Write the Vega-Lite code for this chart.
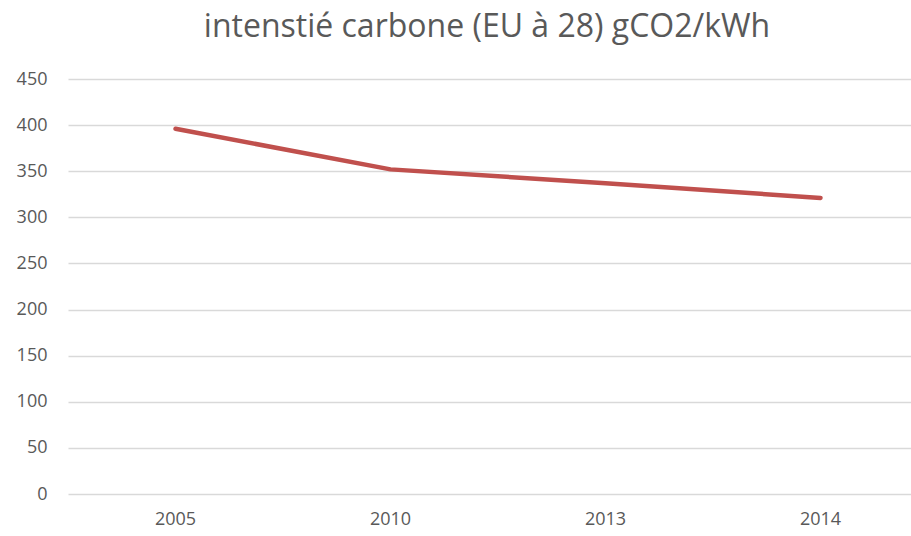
{
  "$schema": "https://vega.github.io/schema/vega-lite/v6.json",
  "autosize": "none",
  "width": 860,
  "height": 415,
  "padding": {"left": 68, "top": 79, "right": 0, "bottom": 42},
  "background": "white",
  "config": {"view": {"stroke": null}, "font": "Open Sans"},
  "title": {
    "text": "intenstié carbone (EU à 28) gCO2/kWh",
    "font": "Open Sans",
    "fontSize": 32,
    "fontWeight": "normal",
    "color": "#595959",
    "anchor": "middle",
    "dx": -11,
    "offset": 26
  },
  "data": {
    "values": [
      {"year": "2005", "value": 396},
      {"year": "2010", "value": 352},
      {"year": "2013", "value": 337},
      {"year": "2014", "value": 321}
    ]
  },
  "mark": {"type": "line", "color": "#c0504d", "strokeWidth": 4.5, "strokeCap": "round", "strokeJoin": "round"},
  "encoding": {
    "x": {
      "field": "year",
      "type": "ordinal",
      "scale": {"type": "band", "paddingInner": 0, "paddingOuter": 0},
      "axis": {
        "title": null,
        "labelAngle": 0,
        "labelFontSize": 18,
        "labelColor": "#595959",
        "labelPadding": 16,
        "ticks": false,
        "domain": false,
        "grid": false
      }
    },
    "y": {
      "field": "value",
      "type": "quantitative",
      "scale": {"domain": [0, 450]},
      "axis": {
        "title": null,
        "values": [0, 50, 100, 150, 200, 250, 300, 350, 400, 450],
        "labelFontSize": 18,
        "labelColor": "#595959",
        "labelPadding": 21,
        "ticks": false,
        "domain": false,
        "gridColor": "#d9d9d9",
        "gridWidth": 1.3
      }
    }
  }
}
